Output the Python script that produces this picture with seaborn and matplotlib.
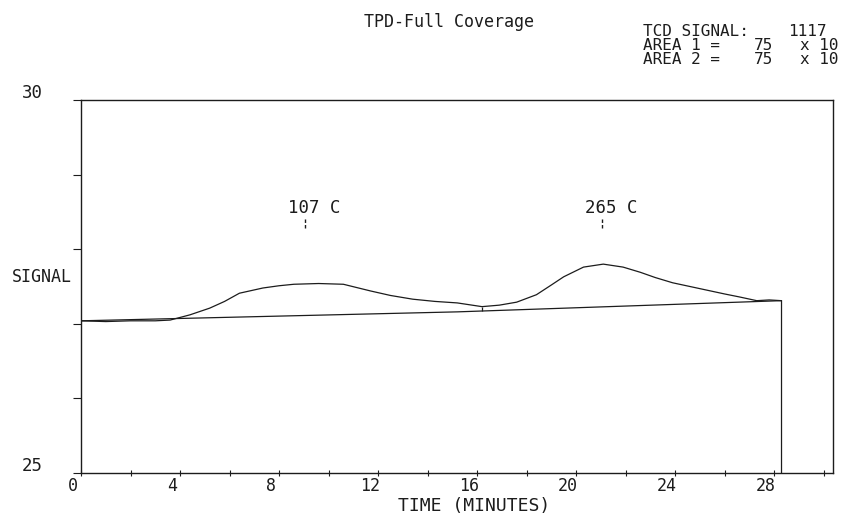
import matplotlib
matplotlib.use('Agg')
import matplotlib.pyplot as plt
import seaborn as sns
import pandas as pd
from matplotlib.transforms import ScaledTranslation

# ---- data ----
time_min = [0.0, 1.0, 2.0, 3.0, 3.6, 4.4, 5.2, 5.8, 6.4, 7.35, 8.0, 8.6, 9.6, 10.6,
            11.7, 12.5, 13.4, 14.3, 15.2, 16.2, 16.9, 17.6, 18.4, 19.0, 19.5, 20.3,
            21.1, 21.9, 22.6, 23.2, 23.9, 24.6, 25.3, 26.0, 26.6, 27.3, 27.8, 28.3, 28.3]
signal = [27.04, 27.03, 27.04, 27.04, 27.05, 27.12, 27.21, 27.30, 27.41, 27.48, 27.51,
          27.53, 27.54, 27.53, 27.44, 27.38, 27.33, 27.30, 27.28, 27.23, 27.25, 27.29,
          27.39, 27.52, 27.63, 27.76, 27.80, 27.76, 27.69, 27.62, 27.55, 27.50, 27.45,
          27.40, 27.36, 27.31, 27.32, 27.31, 25.0]
base_time = [0.0, 15.2, 28.3]
base_signal = [27.04, 27.16, 27.31]
divider_time = [16.2]
divider_top = [27.23]
divider_bottom = [27.175]
peak_time = [9.05, 21.05]
peak_label = ['107 C', '265 C']
x_major = [0, 4, 8, 12, 16, 20, 24, 28]
x_minor = [2, 6, 10, 14, 18, 22, 26, 30]
y_ticks = [25, 26, 27, 28, 29, 30]
y_shown = [30, 25]
title = 'TPD-Full Coverage'
info_names = ['TCD SIGNAL:', 'AREA 1 =', 'AREA 2 =']
info_values = ['1117', '75', '75']
info_units = ['', 'x 10', 'x 10']

sns.set_theme(style='white')
plt.rcParams['font.family'] = ['DejaVu Sans Mono']
ink = '#1c1c1c'

W, H = 841, 514
fig = plt.figure(figsize=(W / 100, H / 100), dpi=100)
ax = fig.add_axes([81 / W, 1 - 473 / H, (833 - 81) / W, (473 - 100) / H])

df = pd.DataFrame({'t': time_min, 's': signal})
sns.lineplot(data=df, x='t', y='s', sort=False, estimator=None, color=ink, lw=0.9, ax=ax)
bf = pd.DataFrame({'t': base_time, 's': base_signal})
sns.lineplot(data=bf, x='t', y='s', sort=False, estimator=None, color=ink, lw=0.9, ax=ax)
ax.vlines(divider_time, divider_bottom, divider_top, color=ink, lw=0.9)

ax.set_xlim(0, 30.38)
ax.set_ylim(25, 30)
ax.set_xlabel('')
ax.set_ylabel('')

for sp in ax.spines.values():
    sp.set_color(ink)
    sp.set_linewidth(1.0)

ax.set_xticks(x_major)
ax.set_xticklabels([str(v) for v in x_major], fontsize=12, color=ink)
ax.set_xticks(x_minor, minor=True)
ax.tick_params(axis='x', which='both', direction='inout', length=4, width=0.8,
               color=ink, pad=1, bottom=True)
off = ScaledTranslation(-8 / 100, 0, fig.dpi_scale_trans)
for lab in ax.get_xticklabels():
    lab.set_transform(lab.get_transform() + off)

ax.set_yticks(y_ticks)
ax.set_yticklabels([''] * len(y_ticks))
ax.tick_params(axis='y', direction='out', length=6, width=0.8, color=ink, left=True)

for v in y_shown:
    ax.annotate(str(v), xy=(0, v), xytext=(-49, 7), textcoords='offset pixels',
                ha='center', va='center', fontsize=12.5, color=ink)

for t, lab in zip(peak_time, peak_label):
    ax.vlines(t, 28.28, 28.42, color=ink, lw=1.0, linestyles=(0, (2.5, 1.5)))
    ax.annotate(lab, xy=(t, 28.55), xytext=(-17, 0), textcoords='offset pixels',
                ha='left', va='center', fontsize=12.5, color=ink)

fig.text(449 / W, 1 - 22 / H, title, ha='center', va='center', fontsize=12, color=ink)
col_x = [643, 788, 800]
for i, (nm, vl, un) in enumerate(zip(info_names, info_values, info_units)):
    y = 1 - (32 + 14 * i) / H
    fig.text(643 / W, y, nm, ha='left', va='center', fontsize=11.5, color=ink)
    if un:
        fig.text(773 / W, y, vl, ha='right', va='center', fontsize=11.5, color=ink)
        fig.text(800 / W, y, un, ha='left', va='center', fontsize=11.5, color=ink)
    else:
        fig.text(788 / W, y, vl, ha='left', va='center', fontsize=11.5, color=ink)
fig.text(42 / W, 1 - 277 / H, 'SIGNAL', ha='center', va='center', fontsize=12, color=ink)
fig.text(474 / W, 1 - 506 / H, 'TIME (MINUTES)', ha='center', va='center', fontsize=13,
         color=ink)

fig.savefig('out.png', dpi=100, facecolor='white')
